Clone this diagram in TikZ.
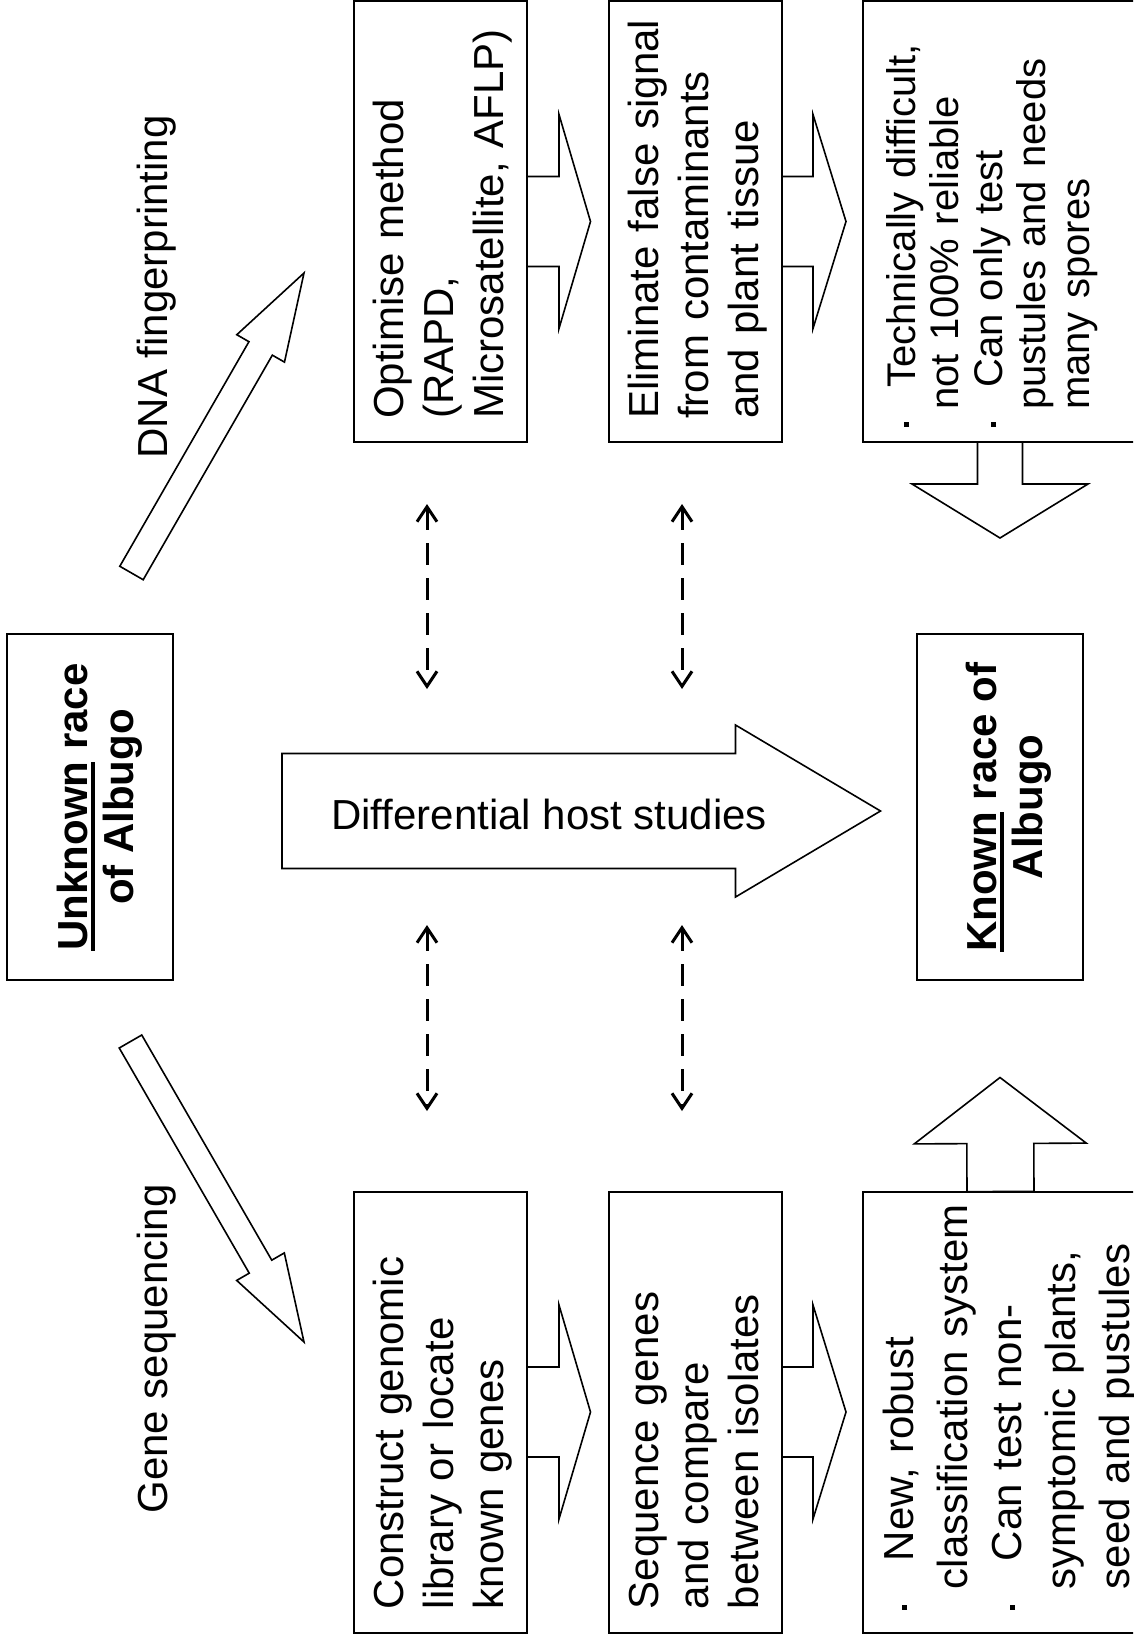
\documentclass[tikz,border=0pt]{standalone}
\usepackage{fontspec}
\setmainfont{Liberation Sans}
\usetikzlibrary{arrows.meta,positioning,calc}
\newcommand{\bul}{\rule[6pt]{5pt}{5pt}}
\newcommand{\ulword}[1]{\setbox0\hbox{#1}\rlap{\rule[-7.5pt]{\wd0}{4pt}}\box0\relax}
% block arrow: tail, tip, shaft half width, head half width, head length
\newcommand{\fatarrow}[5]{%
  \coordinate (fabase) at ($(#2)!#5!(#1)$);
  \draw[blockarrow] ($(#1)!#3!90:(#2)$) -- ($(fabase)!#3!90:(#2)$)
    -- ($(fabase)!#4!90:(#2)$) -- (#2) -- ($(fabase)!#4!-90:(#2)$)
    -- ($(fabase)!#3!-90:(#2)$) -- ($(#1)!#3!-90:(#2)$) -- cycle;}
\tikzset{
  stepbox/.style={draw,line width=2pt,fill=white,minimum width=173pt,
    minimum height=441pt,inner sep=0pt,outer sep=0pt},
  notebox/.style={stepbox,minimum width=320pt},
  racebox/.style={draw,line width=2pt,minimum width=166pt,minimum height=346pt,
    inner sep=0pt,outer sep=0pt},
  steptext/.style={rotate=90,anchor=north west,inner sep=0pt,text width=430pt,
    align=left,font=\fontsize{42}{50}\selectfont},
  racetext/.style={rotate=90,align=center,inner sep=0pt,
    font=\fontsize{42}{46}\selectfont\bfseries},
  routetext/.style={rotate=90,inner sep=0pt,font=\fontsize{42}{50}\selectfont},
  blockarrow/.style={draw,fill=white,line width=1.6pt,line join=miter},
  dashlink/.style={line width=3pt,dash pattern=on 22pt off 13pt,
    {Straight Barb[length=15pt,width=20pt]}-{Straight Barb[length=15pt,width=20pt]}}
}

\begin{document}
\begin{tikzpicture}[x=1pt,y=-1pt]
  \clip (0,0) rectangle (1133,1644);
  \fill[white] (0,0) rectangle (1133,1644);
  % start and end
  \node[racebox] (unk) at (90,807) {};
  \node[racetext] (unktext) at (100,807) {\ulword{Unknown} race\\of Albugo};
  \node[racebox] (known) at (999.5,807) {};
  \node[racetext] (knowntext) at (1009,807) {\ulword{Known} race of\\Albugo};
  % upper route
  \node[stepbox] (opt) at (440.5,221.5) {};
  \node[stepbox,right=82pt of opt] (elim) {};
  \node[notebox,right=81pt of elim] (tech) {};
  \node[steptext] (opttext) at ([shift={(14,-23)}]opt.south west)
    {\strut Optimise method\\(RAPD,\\Microsatellite, AFLP)};
  \node[steptext] (elimtext) at ([shift={(14,-23)}]elim.south west)
    {\strut Eliminate false signal\\from contaminants\\and plant tissue};
  \node[steptext,font=\fontsize{40}{43.5}\selectfont] (techtext)
    at ([shift={(21.5,-32)}]tech.south west)
    {\strut\llap{\bul\hspace{12.5pt}}\hspace{22pt}Technically difficult,\\
     not 100\% reliable\\
     \strut\llap{\bul\hspace{12.5pt}}\hspace{22pt}Can only test\\
     pustules and needs\\
     many spores};
  % lower route
  \node[stepbox] (constr) at (440.5,1412) {};
  \node[stepbox,right=82pt of constr] (seqs) {};
  \node[notebox,right=81pt of seqs] (newsys) {};
  \node[steptext] (constrtext) at ([shift={(14,-23)}]constr.south west)
    {\strut Construct genomic\\library or locate\\known genes};
  \node[steptext] (seqstext) at ([shift={(14,-23)}]seqs.south west)
    {\strut Sequence genes\\and compare\\between isolates};
  \node[steptext,font=\fontsize{42}{54}\selectfont] (newtext)
    at ([shift={(12.2,-43)}]newsys.south west)
    {\strut\llap{\bul\hspace{15.5pt}}\hspace{28pt}New, robust\\
     classification system\\
     \strut\llap{\bul\hspace{15.5pt}}\hspace{28pt}Can test non-\\
     symptomic plants,\\
     seed and pustules};
  % arrows between the steps
  \coordinate (opttip) at ([shift={(63.5,0)}]opt.east);
  \coordinate (elimtip) at ([shift={(64,0)}]elim.east);
  \coordinate (constrtip) at ([shift={(63.5,0)}]constr.east);
  \coordinate (seqstip) at ([shift={(64,0)}]seqs.east);
  \fatarrow{opt.east}{opttip}{45pt}{107pt}{31.5pt}
  \fatarrow{elim.east}{elimtip}{45pt}{107pt}{33pt}
  \fatarrow{constr.east}{constrtip}{45pt}{107pt}{31.5pt}
  \fatarrow{seqs.east}{seqstip}{45pt}{107pt}{33pt}
  \coordinate (techfoot) at ([shift={(137,0)}]tech.south west);
  \coordinate (techtip) at ([shift={(137,96)}]tech.south west);
  \fatarrow{techfoot}{techtip}{22.5pt}{88pt}{54pt}
  \coordinate (newfoot) at ([shift={(137.5,0)}]newsys.north west);
  \coordinate (newtip) at ([shift={(137,-114)}]newsys.north west);
  \fatarrow{newfoot}{newtip}{33.5pt}{86pt}{66pt}
  % the three routes
  \coordinate (dnatail) at (131.5,573);
  \coordinate (dnatip) at (304,273);
  \fatarrow{dnatail}{dnatip}{13.5pt}{27.5pt}{87pt}
  \node[routetext] (dna) at (156.5,287) {DNA fingerprinting};
  \coordinate (genetail) at (130.5,1041.5);
  \coordinate (genetip) at (304,1342);
  \fatarrow{genetail}{genetip}{13pt}{27.5pt}{87pt}
  \node[routetext] (gene) at (156.5,1349) {Gene sequencing};
  \coordinate (hosttail) at ([shift={(109,4)}]unk.east);
  \coordinate (hosttip) at ([shift={(-36,4)}]known.west);
  \fatarrow{hosttail}{hosttip}{57.5pt}{86pt}{145pt}
  \node[routetext,rotate=-90,anchor=base] (hosts) at (549,829)
    {Differential host studies};
  % cross links
  \foreach \x/\n in {427/a,682/b}{
    \coordinate (top\n) at (\x,504);
    \coordinate (topmid\n) at (\x,689);
    \coordinate (lowmid\n) at (\x,925);
    \coordinate (low\n) at (\x,1111);
    \draw[dashlink] (top\n) -- (topmid\n);
    \draw[dashlink] (lowmid\n) -- (low\n);
  }
\end{tikzpicture}
\end{document}
